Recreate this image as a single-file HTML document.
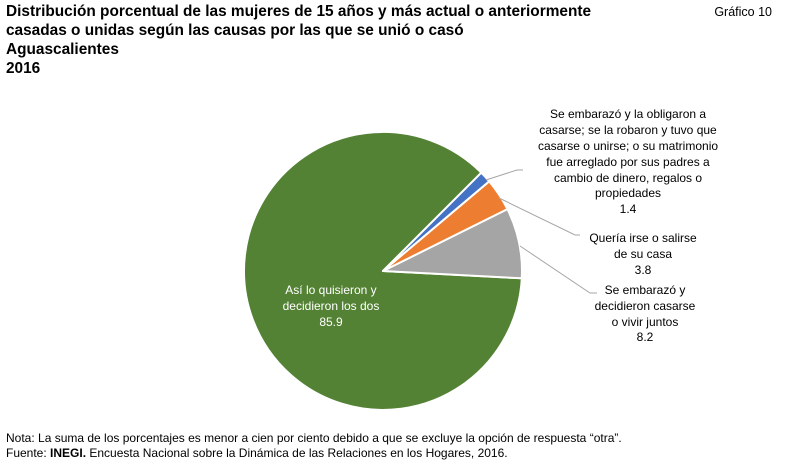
<!DOCTYPE html>
<html><head><meta charset="utf-8"><style>
body{margin:0;width:786px;height:468px;background:#fff;overflow:hidden;font-family:"Liberation Sans",Arial,sans-serif}
.t{position:absolute;left:6px;top:2px;font-weight:bold;font-size:15.4px;line-height:19px;color:#000}
.g{position:absolute;right:14px;top:5px;font-size:12.5px}
.n{position:absolute;left:6px;top:431px;font-size:12px;line-height:15px}
svg{position:absolute;left:0;top:0}
</style></head><body>
<div class="t">Distribución porcentual de las mujeres de 15 años y más actual o anteriormente<br>casadas o unidas según las causas por las que se unió o casó<br>Aguascalientes<br>2016</div>
<div class="g">Gráfico 10</div>
<svg width="786" height="468" font-family="Liberation Sans, Arial, sans-serif" font-size="12" text-anchor="middle">
<g stroke="#fff" stroke-width="2" stroke-linejoin="round">
<path d="M383,271 L481.3,172.7 A139,139 0 1 0 521.8,278.3 Z" fill="#548235"/>
<path d="M383,271 L521.8,278.3 A139,139 0 0 0 507.4,209.1 Z" fill="#a5a5a5"/>
<path d="M383,271 L507.4,209.1 A139,139 0 0 0 489.2,181.3 Z" fill="#ed7d31"/>
<path d="M383,271 L489.2,181.3 A139,139 0 0 0 481.3,172.7 Z" fill="#4472c4"/>
</g>
<g stroke="#a6a6a6" fill="none" stroke-width="1">
<polyline points="486,180 517,170 523,170"/>
<polyline points="499,198 575,235 580,235"/>
<polyline points="520,246 590,293 597,293"/>
</g>
<g fill="#000">
<text x="628" y="118">Se embarazó y la obligaron a</text>
<text x="628" y="134">casarse; se la robaron y tuvo que</text>
<text x="628" y="150">casarse o unirse; o su matrimonio</text>
<text x="628" y="166">fue arreglado por sus padres a</text>
<text x="628" y="182">cambio de dinero, regalos o</text>
<text x="628" y="197">propiedades</text>
<text x="628" y="213">1.4</text>
<text x="643" y="242">Quería irse o salirse</text>
<text x="643" y="258">de su casa</text>
<text x="643" y="274">3.8</text>
<text x="645" y="294">Se embarazó y</text>
<text x="645" y="310">decidieron casarse</text>
<text x="645" y="326">o vivir juntos</text>
<text x="645" y="341">8.2</text>
</g>
<g fill="#fff">
<text x="331" y="294">Así lo quisieron y</text>
<text x="331" y="310">decidieron los dos</text>
<text x="331" y="326">85.9</text>
</g>
</svg>
<div class="n">Nota: La suma de los porcentajes es menor a cien por ciento debido a que se excluye la opción de respuesta “otra”.<br>Fuente: <b>INEGI.</b> Encuesta Nacional sobre la Dinámica de las Relaciones en los Hogares, 2016.</div>
</body></html>
